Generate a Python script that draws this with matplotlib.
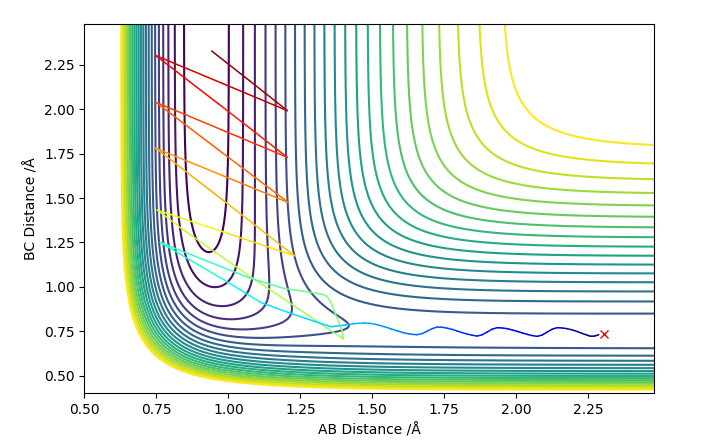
"""Contour plot of a collinear A-B-C LEPS surface with one reactive trajectory."""
import numpy as np
import matplotlib

matplotlib.use("Agg")
import matplotlib.pyplot as plt
from matplotlib.collections import LineCollection

# Morse / Sato parameters (eV, 1/Angstrom, Angstrom) for the AB, BC and AC pairs
D_AB, BETA_AB, RE_AB, K_AB = 6.12, 2.2187, 0.917, 0.185
D_BC, BETA_BC, RE_BC, K_BC = 4.7466, 1.942, 0.7419, 0.20
D_AC, BETA_AC, RE_AC, K_AC = D_AB, BETA_AB, RE_AB, K_AB

# contour levels (eV)
LEVEL_LOW, LEVEL_HIGH, N_LEVELS = -5.94, -1.17, 22

# trajectory: AB distance, BC distance, time fraction
traj_ab = [0.942, 1.074, 1.205, 0.977, 0.748, 0.977, 1.205, 0.977, 0.748, 0.978,
           1.209, 0.979, 0.748, 0.989, 1.229, 0.991, 0.753, 0.844, 1.076, 1.215,
           1.400, 1.395, 1.371, 1.360, 1.348, 1.3365, 1.308, 1.192, 1.076, 0.763,
           0.985, 1.112, 1.217, 1.356,
           1.400, 1.435, 1.470, 1.493, 1.516, 1.540, 1.563, 1.586, 1.609, 1.632,
           1.655, 1.673, 1.690, 1.708, 1.725, 1.742, 1.760, 1.777, 1.795, 1.812,
           1.829, 1.847, 1.864, 1.881, 1.899, 1.916, 1.934, 1.951, 1.969, 1.986,
           2.003, 2.021, 2.038, 2.056, 2.073, 2.090, 2.108, 2.125, 2.142, 2.160,
           2.177, 2.195, 2.212, 2.230, 2.247, 2.258, 2.272, 2.287]
traj_bc = [2.328, 2.160, 1.992, 2.147, 2.302, 2.016, 1.729, 1.884, 2.039, 1.756,
           1.474, 1.627, 1.780, 1.478, 1.175, 1.304, 1.432, 1.320, 1.057, 0.907,
           0.705, 0.756, 0.850, 0.897, 0.935, 0.952, 0.963, 0.991, 1.048, 1.250,
           1.038, 0.912, 0.850, 0.775,
           0.783, 0.792, 0.796, 0.794, 0.787, 0.776, 0.764, 0.752, 0.741, 0.733,
           0.730, 0.736, 0.749, 0.764, 0.773, 0.772, 0.767, 0.760, 0.751, 0.742,
           0.734, 0.727, 0.7225, 0.729, 0.745, 0.761, 0.7695, 0.768, 0.764, 0.757,
           0.749, 0.740, 0.732, 0.725, 0.7207, 0.728, 0.745, 0.761, 0.7695, 0.768,
           0.764, 0.757, 0.748, 0.737, 0.727, 0.7215, 0.722, 0.730]
traj_t = [0.000, 0.025, 0.050, 0.070, 0.090, 0.110, 0.130, 0.152, 0.175, 0.195,
          0.215, 0.237, 0.260, 0.282, 0.305, 0.345, 0.385, 0.400, 0.430, 0.450,
          0.470, 0.480, 0.490, 0.495, 0.500, 0.505, 0.510, 0.530, 0.560, 0.600,
          0.625, 0.640, 0.655, 0.670,
          0.678, 0.691, 0.703, 0.712, 0.720, 0.729, 0.737, 0.746, 0.754, 0.762,
          0.771, 0.777, 0.783, 0.790, 0.796, 0.802, 0.809, 0.815, 0.821, 0.828,
          0.834, 0.840, 0.846, 0.853, 0.859, 0.865, 0.872, 0.878, 0.885, 0.891,
          0.897, 0.903, 0.910, 0.916, 0.922, 0.928, 0.935, 0.941, 0.947, 0.954,
          0.960, 0.967, 0.973, 0.979, 0.985, 0.989, 0.995, 1.000]

# final position marker
final_ab = [2.305]
final_bc = [0.736]


def _coulomb_exchange(r, d, beta, re, k):
    e = np.exp(-beta * (r - re))
    q = d / 4 * ((3 + k) * e ** 2 - (2 + 6 * k) * e)
    j = d / 4 * ((1 + 3 * k) * e ** 2 - (6 + 2 * k) * e)
    return q / (1 + k), j / (1 + k)


def leps(r_ab, r_bc):
    r_ac = r_ab + r_bc
    q_ab, j_ab = _coulomb_exchange(r_ab, D_AB, BETA_AB, RE_AB, K_AB)
    q_bc, j_bc = _coulomb_exchange(r_bc, D_BC, BETA_BC, RE_BC, K_BC)
    q_ac, j_ac = _coulomb_exchange(r_ac, D_AC, BETA_AC, RE_AC, K_AC)
    exch = j_ab ** 2 + j_bc ** 2 + j_ac ** 2 - j_ab * j_bc - j_bc * j_ac - j_ab * j_ac
    return q_ab + q_bc + q_ac - np.sqrt(np.maximum(exch, 0))


def main() -> None:
    ab = np.linspace(0.5, 2.48, 400)
    bc = np.linspace(0.4, 2.48, 420)
    X, Y = np.meshgrid(ab, bc)
    V = leps(X, Y)

    fig = plt.figure(figsize=(7.01, 4.44), dpi=100)
    ax = fig.add_axes([0.1205, 0.1142, 0.8129, 0.8317])
    ax.contour(X, Y, V, levels=np.linspace(LEVEL_LOW, LEVEL_HIGH, N_LEVELS), cmap="viridis")

    pts = np.column_stack([traj_ab, traj_bc])
    segs = np.stack([pts[:-1], pts[1:]], axis=1)
    t = np.asarray(traj_t)
    lc = LineCollection(segs, cmap="jet_r", norm=plt.Normalize(0, 1), linewidths=1.1,
                        capstyle="round")
    lc.set_array((t[:-1] + t[1:]) / 2)
    ax.add_collection(lc)
    ax.plot(final_ab, final_bc, "rx")

    ax.set_xlim(0.5, 2.48)
    ax.set_ylim(0.4, 2.48)
    ax.set_xticks(np.arange(0.5, 2.3, 0.25))
    ax.set_yticks(np.arange(0.5, 2.3, 0.25))
    ax.set_xlabel("AB Distance /Å")
    ax.set_ylabel("BC Distance /Å")
    fig.savefig("out.png", dpi=100)


if __name__ == "__main__":
    main()
